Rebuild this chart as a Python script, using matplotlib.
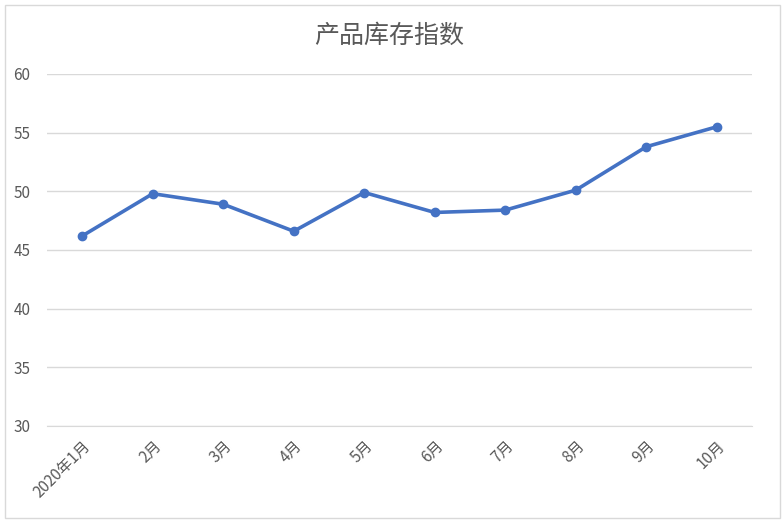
import matplotlib
matplotlib.use("Agg")
import matplotlib.pyplot as plt
from matplotlib.patches import Rectangle

plt.rcParams['font.family'] = ['Noto Sans CJK SC', 'DejaVu Sans']

months = ["2020年1月", "2月", "3月", "4月", "5月", "6月", "7月", "8月", "9月", "10月"]
inventory_index = [46.2, 49.8, 48.9, 46.6, 49.9, 48.2, 48.4, 50.1, 53.8, 55.5]
y_ticks = [30, 35, 40, 45, 50, 55, 60]

text_color = "#595959"
line_color = "#4472C4"
grid_color = "#D9D9D9"

fig = plt.figure(figsize=(7.84, 5.23), dpi=100)
fig.patches.append(Rectangle((5 / 784, 5 / 523), 775 / 784, 513 / 523,
                             transform=fig.transFigure, fill=False,
                             edgecolor=grid_color, linewidth=1))
ax = fig.add_axes([47 / 784, 1 - 426 / 523, 705 / 784, 352 / 523])

x = list(range(len(months)))
ax.plot(x, inventory_index, color=line_color, linewidth=2.6,
        marker="o", markersize=6, zorder=3)

ax.set_xlim(-0.5, len(months) - 0.5)
ax.set_ylim(30, 60)
ax.set_yticks(y_ticks)
ax.set_xticks(x)
ax.set_xticklabels(months, rotation=45, ha="right", rotation_mode="anchor")
ax.grid(axis="y", color=grid_color, linewidth=1)
ax.set_axisbelow(True)
for name, s in ax.spines.items():
    s.set_visible(name == "bottom")
ax.spines["bottom"].set_color(grid_color)
ax.tick_params(axis="both", length=0, colors=text_color, labelsize=11)
ax.tick_params(axis="y", pad=12)
ax.tick_params(axis="x", pad=8)

fig.text(389 / 784, 1 - 36 / 523, "产品库存指数", ha="center", va="center",
         fontsize=18, color=text_color, fontweight="light")

fig.savefig("out.png", dpi=100)
